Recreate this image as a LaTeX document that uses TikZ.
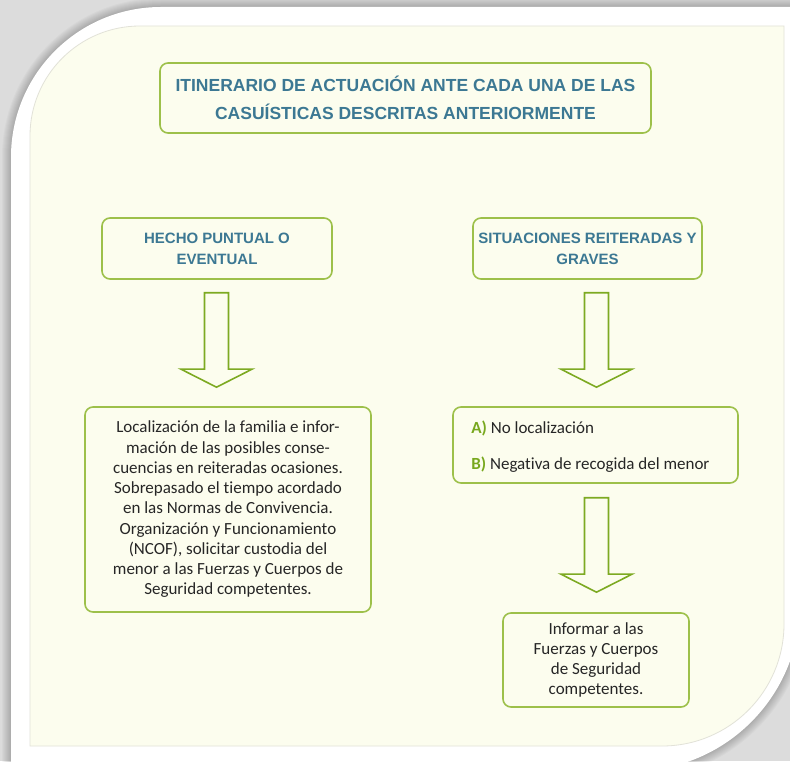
\documentclass[tikz,border=0pt]{standalone}
\usepackage{fontspec}
\setmainfont{Carlito}[Ligatures=NoCommon]
\newfontfamily\headfont{Liberation Sans}
\usetikzlibrary{calc}
\definecolor{bggray}{HTML}{DCDCDC}
\definecolor{cream}{HTML}{FCFDEE}
\definecolor{creamline}{HTML}{E2E2D8}
\definecolor{boxgreen}{HTML}{9DC04A}
\definecolor{arrgreen}{HTML}{7DAA22}
\definecolor{headblue}{HTML}{3C7893}
\definecolor{bodytext}{HTML}{262626}
\definecolor{labgreen}{HTML}{78A81E}
\newcommand\cardpath{(11,-10) -- (11,604) arc[start angle=180,end angle=90,radius=150] -- (800,754) -- (800,157) arc[start angle=0,end angle=-90,radius=167] -- cycle}
\newcommand\blockarr[2]{\draw[blockarrow] let \p1=(#1), \p2=(#2) in (\x1-12,\y1) -- (\x1+12,\y1) -- (\x1+12,\y2+18) -- (\x1+35.5,\y2+18) -- (\x1,\y2) -- (\x1-35.5,\y2+18) -- (\x1-12,\y2+18) -- cycle;}
\begin{document}
\begin{tikzpicture}[x=1pt,y=1pt,
  box/.style={draw=boxgreen, line width=1.6pt, rounded corners=8pt, fill=cream, inner sep=0pt},
  headtext/.style={font=\headfont\bfseries\fontsize{17.5}{28}\selectfont, text=headblue, align=center},
  subhead/.style={font=\headfont\bfseries\fontsize{15}{21}\selectfont, text=headblue, align=center},
  bodytxt/.style={font=\fontsize{17}{20.25}\selectfont, text=bodytext, align=center},
  abtxt/.style={font=\fontsize{17}{20}\selectfont, text=bodytext, anchor=west, inner sep=0pt},
  blockarrow/.style={draw=arrgreen, line width=1.6pt, fill=cream, line join=miter}]
\useasboundingbox (0,0) rectangle (790,761);
\fill[bggray] (0,0) rectangle (790,761);
% card shadow
\foreach \w in {2,4,...,18} {\draw[line width=\w pt, black, opacity=0.025] \cardpath;}
\fill[white] \cardpath;
% cream panel
\filldraw[fill=cream, draw=creamline, line width=0.8pt] (30,15) -- (30,625) arc[start angle=180,end angle=90,radius=110] -- (784,735) -- (784,137) arc[start angle=0,end angle=-90,radius=122] -- cycle;

\node[box, headtext, minimum width=491pt, minimum height=70pt] (title) at (405.5,663)
  {ITINERARIO DE ACTUACIÓN ANTE CADA UNA DE LAS\\CASUÍSTICAS DESCRITAS ANTERIORMENTE};
\node[box, subhead, minimum width=230pt, minimum height=61pt] (hecho) at (217,512.5)
  {HECHO PUNTUAL O\\EVENTUAL};
\node[box, subhead, minimum width=229pt, minimum height=61pt] (sit) at (587.5,512.5)
  {SITUACIONES REITERADAS Y\\GRAVES};
\node[box, bodytxt, minimum width=286pt, minimum height=205pt] (content) at (228,251.5)
  {Localización de la familia e infor-\\mación de las posibles conse-\\cuencias en reiteradas ocasiones.\\Sobrepasado el tiempo acordado\\en las Normas de Convivencia.\\Organización y Funcionamiento\\(NCOF), solicitar custodia del\\menor a las Fuerzas y Cuerpos de\\Seguridad competentes.};
\node[box, minimum width=285pt, minimum height=76pt] (ab) at (595.5,316) {};
\node[abtxt] (la) at ($(ab.west)+(19,17)$) {\textcolor{labgreen}{\bfseries A)} No localización};
\node[abtxt] (lb) at ($(ab.west)+(19,-20)$) {\textcolor{labgreen}{\bfseries B)} Negativa de recogida del menor};
\node[box, bodytxt, minimum width=186pt, minimum height=94pt] (inform) at (596,101)
  {Informar a las\\Fuerzas y Cuerpos\\de Seguridad\\competentes.};

% block arrows
\coordinate (a1top) at ($(hecho.south)+(-0.5,-13)$);
\coordinate (a1tip) at ($(content.north)+(0,19)$);
\coordinate (a2top) at ($(ab.north |- sit.south)+(1,-13)$);
\coordinate (a2tip) at ($(ab.north)+(0,19)$);
\coordinate (a3top) at ($(ab.south)+(1,-14)$);
\coordinate (a3tip) at ($(inform.north)+(0,20)$);
\blockarr{a1top}{a1tip}
\blockarr{a2top}{a2tip}
\blockarr{a3top}{a3tip}
\end{tikzpicture}
\end{document}
